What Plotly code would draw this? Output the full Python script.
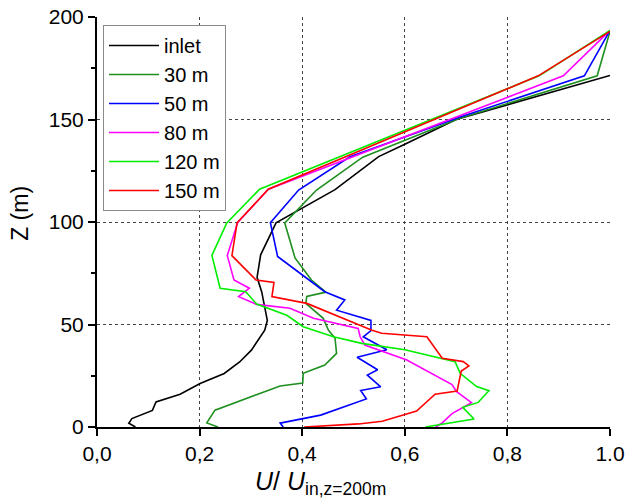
import plotly.graph_objects as go

# ---- data (U/U_in, Z) ----
inlet_u = [1.0, 0.70, 0.597, 0.549, 0.464, 0.349, 0.319, 0.312, 0.321, 0.332, 0.327, 0.301, 0.278, 0.248, 0.201, 0.162, 0.115, 0.108, 0.068, 0.062, 0.075]
inlet_z = [171.5, 150.0, 137.6, 131.9, 115.8, 99.6, 84.0, 73.0, 66.0, 52.0, 47.2, 37.5, 31.7, 26.1, 21.2, 16.0, 12.2, 8.1, 4.1, 1.8, 0.0]

m30_u = [1.0, 0.975, 0.706, 0.518, 0.428, 0.366, 0.386, 0.418, 0.446, 0.409, 0.407, 0.441, 0.451, 0.464, 0.467, 0.444, 0.402, 0.401, 0.357, 0.23, 0.214, 0.236]
m30_z = [193.0, 171.3, 150.5, 131.6, 115.6, 99.5, 82.5, 71.7, 65.8, 63.7, 60.3, 53.0, 47.3, 43.3, 35.9, 30.2, 26.2, 21.4, 20.0, 8.2, 2.0, 0.0]

m50_u = [1.0, 0.950, 0.708, 0.493, 0.393, 0.338, 0.352, 0.444, 0.483, 0.467, 0.534, 0.534, 0.519, 0.565, 0.507, 0.547, 0.527, 0.553, 0.514, 0.525, 0.436, 0.357, 0.363]
m50_z = [193.5, 171.3, 151.2, 131.8, 115.6, 99.7, 83.2, 66.0, 62.0, 57.0, 52.0, 47.0, 44.0, 37.7, 34.0, 27.9, 25.3, 19.6, 17.8, 13.7, 5.8, 1.9, 0.0]

m80_u = [1.0, 0.909, 0.334, 0.274, 0.254, 0.267, 0.297, 0.276, 0.311, 0.376, 0.422, 0.509, 0.513, 0.522, 0.604, 0.678, 0.692, 0.701, 0.730, 0.692, 0.672, 0.660]
m80_z = [193.5, 171.3, 116.0, 99.6, 83.6, 71.7, 67.7, 63.6, 59.8, 57.9, 53.0, 48.1, 44.0, 40.0, 32.7, 22.9, 20.7, 17.2, 11.9, 6.5, 1.8, 0.0]

m120_u = [1.0, 0.862, 0.317, 0.253, 0.224, 0.237, 0.240, 0.290, 0.311, 0.370, 0.402, 0.461, 0.516, 0.600, 0.673, 0.698, 0.708, 0.740, 0.764, 0.743, 0.713, 0.735, 0.640]
m120_z = [193.5, 171.3, 116.0, 99.5, 83.7, 71.7, 67.7, 66.0, 60.0, 54.5, 48.9, 44.0, 40.8, 37.7, 33.2, 31.9, 26.2, 19.7, 17.7, 12.0, 9.6, 3.9, 0.0]

m150_u = [1.0, 0.860, 0.334, 0.273, 0.263, 0.310, 0.345, 0.341, 0.409, 0.459, 0.536, 0.555, 0.643, 0.673, 0.714, 0.725, 0.710, 0.702, 0.659, 0.623, 0.556, 0.510, 0.404]
m150_z = [193.0, 171.3, 116.0, 99.6, 83.6, 71.7, 70.5, 63.6, 60.3, 55.0, 47.2, 45.7, 44.0, 33.5, 31.9, 29.8, 27.3, 17.6, 16.0, 7.8, 2.8, 1.5, 0.0]

names = ["inlet", "30 m", "50 m", "80 m", "120 m", "150 m"]
colors = ["#000000", "#1f8f1f", "#0000ff", "#ff00ff", "#00ee00", "#ff0000"]
series_u = [inlet_u, m30_u, m50_u, m80_u, m120_u, m150_u]
series_z = [inlet_z, m30_z, m50_z, m80_z, m120_z, m150_z]

x_tickvals = [0, 0.2, 0.4, 0.6, 0.8, 1.0]
x_ticktext = ["0,0", "0,2", "0,4", "0,6", "0,8", "1.0"]
y_tickvals = [0, 50, 100, 150, 200]

FONT = "Liberation Sans, Arial, sans-serif"

fig = go.Figure()
for n, c, u, z in zip(names, colors, series_u, series_z):
    fig.add_trace(go.Scatter(x=u, y=z, mode="lines", name=n,
                             line=dict(color=c, width=1.6)))

fig.update_layout(
    width=627, height=500,
    margin=dict(l=97, r=17, t=17, b=73, autoexpand=False),
    paper_bgcolor="white", plot_bgcolor="white",
    font=dict(family=FONT, color="black", size=21),
    showlegend=True,
    legend=dict(x=0.0117, y=0.9805, xanchor="left", yanchor="top",
                bgcolor="white", bordercolor="#8a8a8a", borderwidth=1,
                font=dict(size=20, family=FONT), tracegroupgap=0,
                itemwidth=50),
    xaxis=dict(range=[0, 1], tickvals=x_tickvals, ticktext=x_ticktext,
               ticks="outside", ticklen=7, tickwidth=1.5, tickcolor="black",
               showline=True, linewidth=2, linecolor="black",
               showgrid=True, gridcolor="#444", gridwidth=1, griddash="dot",
               zeroline=False, tickfont=dict(size=21), automargin=False),
    yaxis=dict(range=[0, 200], tickvals=y_tickvals,
               ticks="outside", ticklen=7, tickwidth=1.5, tickcolor="black",
               minor=dict(dtick=25, tick0=0, ticks="outside", ticklen=4,
                          tickwidth=1.5, tickcolor="black", showgrid=False),
               showline=True, linewidth=2, linecolor="black",
               showgrid=True, gridcolor="#444", gridwidth=1, griddash="dot",
               zeroline=False, tickfont=dict(size=21), automargin=False),
    xaxis2=dict(range=[0, 1], overlaying="x", side="top", anchor="y",
                tickvals=[0.2, 0.4, 0.6, 0.8], ticks="inside", ticklen=7,
                tickwidth=1.5, tickcolor="black", showticklabels=False,
                showline=True, linewidth=2, linecolor="black",
                showgrid=False, zeroline=False, automargin=False),
    yaxis2=dict(range=[0, 200], overlaying="y", side="right", anchor="x",
                tickvals=[50, 100, 150], ticks="inside", ticklen=7,
                tickwidth=1.5, tickcolor="black", showticklabels=False,
                showline=True, linewidth=2, linecolor="black",
                showgrid=False, zeroline=False, automargin=False),
    annotations=[
        dict(text="<i>U</i>/ <i>U</i><sub>in,z=200m</sub>", xref="paper", yref="paper",
             x=0.435, y=-0.092, xanchor="center", yanchor="top", showarrow=False,
             font=dict(size=25, family=FONT)),
        dict(text="Z (m)", xref="paper", yref="paper", x=-0.15, y=0.52,
             xanchor="center", yanchor="middle", textangle=-90, showarrow=False,
             font=dict(size=23, family=FONT)),
    ],
)

fig.write_html("out.html")
